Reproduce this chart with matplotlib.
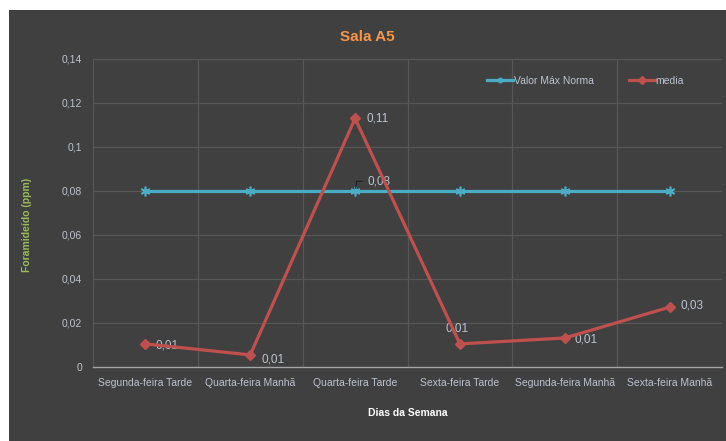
import matplotlib.pyplot as plt
from matplotlib.patches import Rectangle

# Formaldehyde readings per session, Sala A5
dias = ['Segunda-feira Tarde', 'Quarta-feira Manhã', 'Quarta-feira Tarde',
        'Sexta-feira Tarde', 'Segunda-feira Manhã', 'Sexta-feira Manhã']
media = [0.0105, 0.0055, 0.113, 0.0105, 0.0132, 0.0272]
valor_max = [0.08, 0.08, 0.08, 0.08, 0.08, 0.08]
yticks = [0, 0.02, 0.04, 0.06, 0.08, 0.1, 0.12, 0.14]
ytick_labels = ['0', '0,02', '0,04', '0,06', '0,08', '0,1', '0,12', '0,14']

plt.rcParams['font.family'] = ['Liberation Sans', 'DejaVu Sans']

bg = '#404040'
grid_c = '#575757'
tick_c = '#bcc3cf'
red = '#c0504d'
cyan = '#4bacc6'

fig = plt.figure(figsize=(7.26, 4.41), dpi=100)
fig.patch.set_facecolor('white')
fig.patches.append(Rectangle((9 / 726, 0), 1 - 9 / 726, 1 - 10 / 441,
                             transform=fig.transFigure, facecolor=bg,
                             edgecolor='none', zorder=-10))

ax = fig.add_axes([93 / 726, 74 / 441, 629 / 726, 308 / 441])
ax.set_facecolor(bg)
x = list(range(len(dias)))

# grid: horizontal at ticks, vertical between categories
for yv in yticks[1:]:
    ax.axhline(yv, color=grid_c, lw=0.9, zorder=0)
for xv in [i - 0.5 for i in range(len(dias) + 1)]:
    ax.axvline(xv, color=grid_c, lw=0.9, zorder=0)

ax.plot(x, valor_max, color=cyan, lw=2.3, marker=(6, 2, 0), ms=7,
        mec=cyan, mew=1.2, label='Valor Máx Norma', zorder=3)
ax.plot(x, media, color=red, lw=2.3, marker='D', ms=5, mec=red,
        label='media', zorder=4)

# data labels for media
offsets = [(7, -1), (8, -3), (8, 0), (-2, 11), (7, -1), (8, 1)]
for xi, v, (dx, dy) in zip(x, media, offsets):
    ax.annotate(f'{v:.2f}'.replace('.', ','), (xi, v), xytext=(dx, dy),
                textcoords='offset points', color=tick_c, fontsize=8.5,
                ha='left' if dx > 0 else 'center', va='center')

# single label on the norm line, with a leader
ax.annotate(f'{valor_max[2]:.2f}'.replace('.', ','), (x[2], valor_max[2]),
            xytext=(9, 7), textcoords='offset points', color=tick_c,
            fontsize=8.5, va='center', ha='left',
            arrowprops=dict(arrowstyle='-', color='#202020', lw=0.8,
                            connectionstyle='angle,angleA=0,angleB=80'))

ax.set_xlim(-0.5, len(dias) - 0.5)
ax.set_ylim(0, 0.14)
ax.set_xticks(x)
ax.set_xticklabels(dias)
ax.set_yticks(yticks)
ax.set_yticklabels(ytick_labels)
ax.tick_params(colors=tick_c, labelsize=7.5, length=0, pad=8)

for s in ['top', 'left', 'right']:
    ax.spines[s].set_visible(False)
ax.spines['bottom'].set_color('#a6a6a6')
ax.spines['bottom'].set_linewidth(1)

ax.set_xlabel('Dias da Semana', color='white', fontsize=7.5,
              fontweight='bold', labelpad=14)
fig.text(27 / 726, 1 - 225 / 441, 'Foramideído (ppm)', color='#9bbb59',
         fontsize=7.5, fontweight='bold', rotation=90, ha='center', va='center')
fig.text(367 / 726, 1 - 37 / 441, 'Sala A5', color='#f79646', fontsize=11,
         fontweight='bold', ha='center', va='center')

leg = ax.legend(loc='upper left', bbox_to_anchor=(0.612, 0.975), ncol=2,
                frameon=False, fontsize=7.5, labelcolor=tick_c,
                handlelength=2.5, columnspacing=3.3, handletextpad=0.1)
for h in leg.legend_handles:
    h.set_markersize(4)

fig.savefig('out.png', dpi=100, facecolor=fig.get_facecolor())
